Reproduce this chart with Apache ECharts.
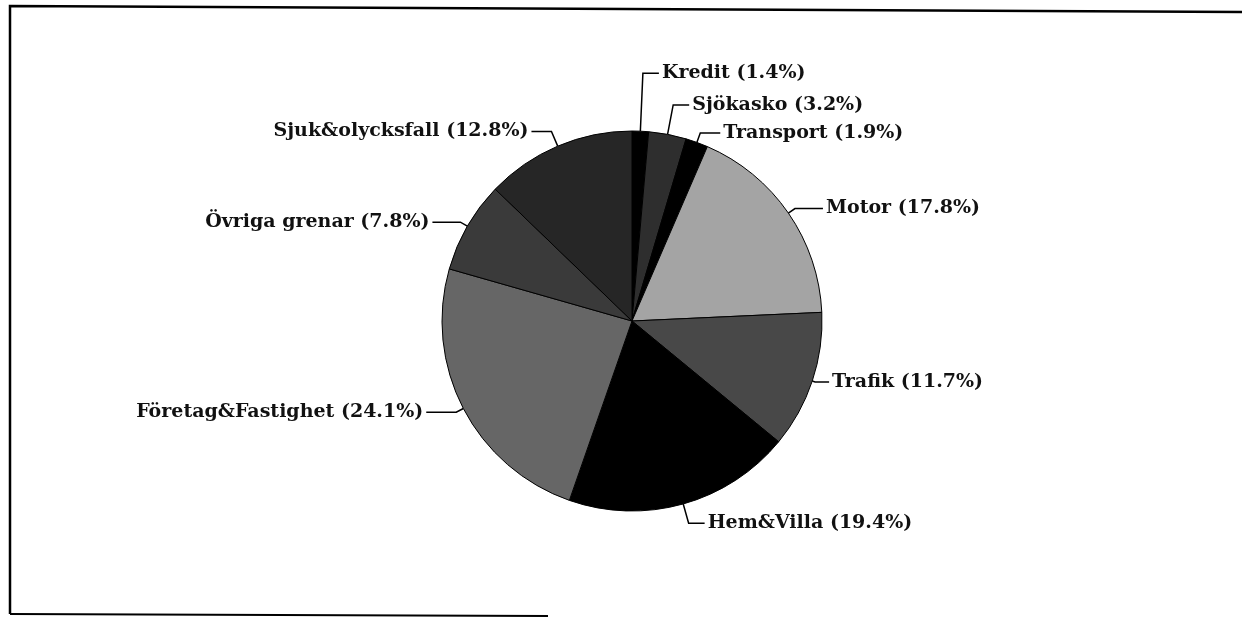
<!DOCTYPE html>
<html>
<head>
<meta charset="utf-8">
<script src="https://cdn.jsdelivr.net/npm/echarts@6/dist/echarts.min.js"></script>
<style>
html,body{margin:0;padding:0;background:#fff;}
#c{width:1242px;height:624px;}
</style>
</head>
<body>
<div id="c"></div>
<script>
// Data (clockwise from 12 o'clock)
const categories = ['Kredit', 'Sjökasko', 'Transport', 'Motor', 'Trafik', 'Hem&Villa', 'Företag&Fastighet', 'Övriga grenar', 'Sjuk&olycksfall'];
const shares = [1.4, 3.2, 1.9, 17.8, 11.7, 19.4, 24.1, 7.8, 12.8];
const fills = ['#000000', '#2e2e2e', '#000000', '#a4a4a4', '#484848', '#000000', '#666666', '#3a3a3a', '#262626'];
// label leader line lengths (radial, horizontal)
const leadLen = [58, 30, 10, 8, 3, 20, 8, 8, 16];
const leadLen2 = [16, 16, 20, 28, 14, 16, 30, 28, 20];

const chart = echarts.init(document.getElementById('c'), null, {renderer: 'canvas'});
const data = categories.map((name, i) => ({
  name: name,
  value: shares[i],
  itemStyle: {color: fills[i]},
  labelLine: {length: leadLen[i], length2: leadLen2[i]}
}));

chart.setOption({
  backgroundColor: '#ffffff',
  animation: false,
  graphic: [
    {type: 'polyline', shape: {points: [[10, 614], [10, 6], [1242, 12]]}, style: {stroke: '#000', lineWidth: 2.5, fill: null}},
    {type: 'line', shape: {x1: 10, y1: 614, x2: 548, y2: 616}, style: {stroke: '#000', lineWidth: 2}}
  ],
  series: [{
    type: 'pie',
    center: [632, 321],
    radius: 190,
    startAngle: 90,
    clockwise: true,
    avoidLabelOverlap: false,
    itemStyle: {borderColor: '#000', borderWidth: 1},
    label: {
      show: true,
      position: 'outside',
      formatter: p => p.name + ' (' + p.value.toFixed(1) + '%)',
      fontFamily: 'DejaVu Serif',
      fontWeight: 'bold',
      fontSize: 19,
      color: '#111',
      distanceToLabelLine: 3
    },
    labelLine: {show: true, smooth: false, lineStyle: {color: '#000', width: 1.5}},
    emphasis: {disabled: true},
    data: data
  }]
});
</script>
</body>
</html>
